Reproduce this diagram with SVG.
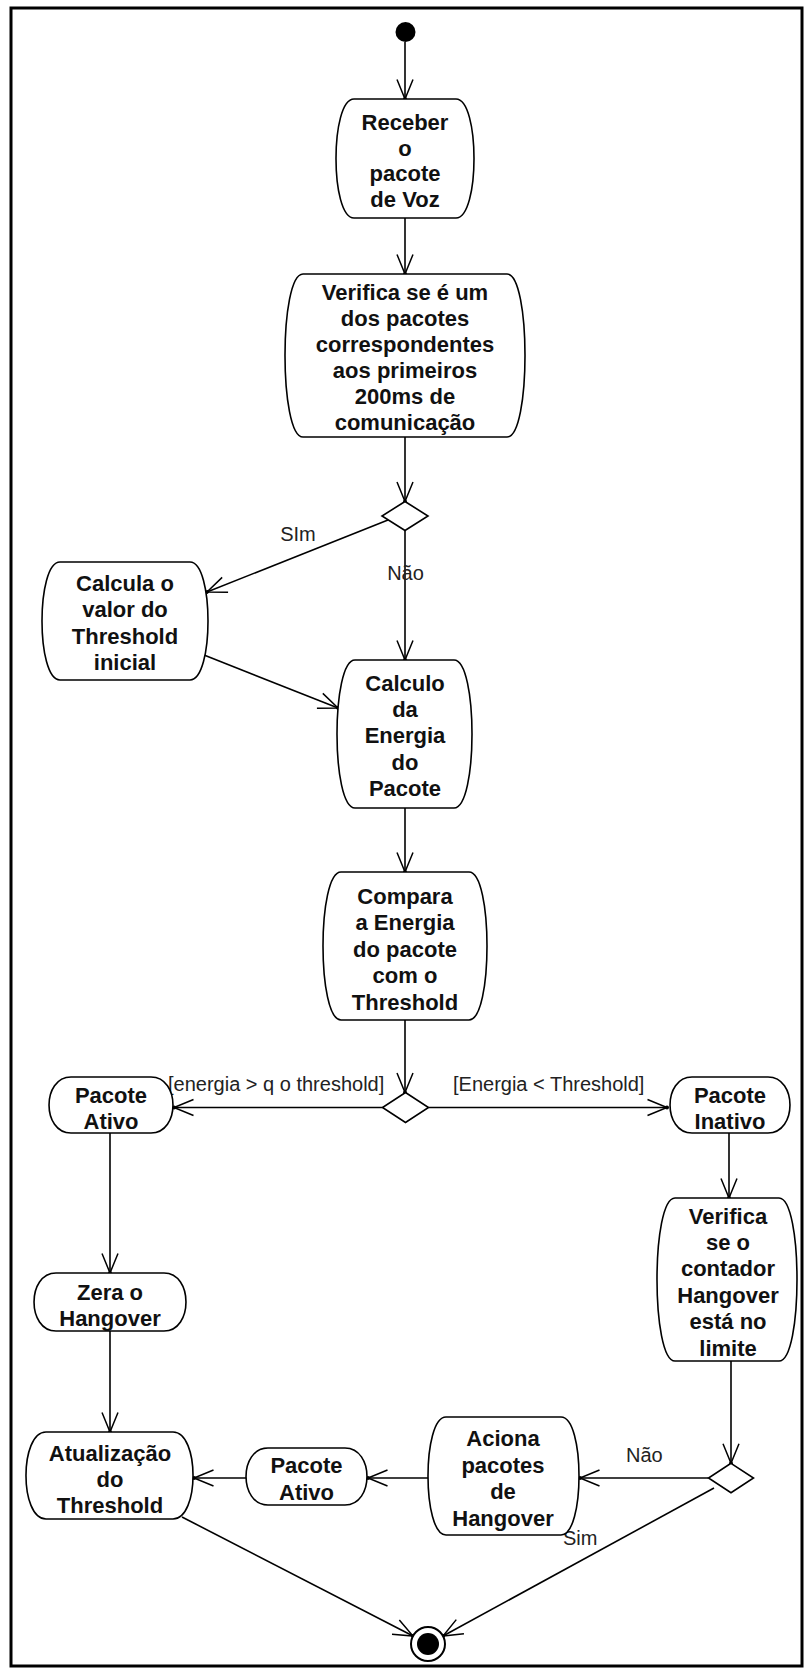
<svg xmlns="http://www.w3.org/2000/svg" width="811" height="1670" viewBox="0 0 811 1670">
<style>
.node{fill:#fff;stroke:#000;stroke-width:1.6}
.t{font-family:"Liberation Sans",Arial,sans-serif;font-weight:bold;font-size:22px;fill:#111;text-anchor:middle}
.lbl{font-family:"Liberation Sans",Arial,sans-serif;font-size:20px;fill:#222}
.c{fill:none;stroke:#000;stroke-width:1.6;marker-end:url(#arr)}
</style>
<defs>
<marker id="arr" markerUnits="userSpaceOnUse" markerWidth="30" markerHeight="30" viewBox="-25 -15 30 30" refX="0" refY="0" orient="auto" overflow="visible">
<path d="M-19.5,-8 L0,0 L-19.5,8" fill="none" stroke="#000" stroke-width="1.5"/>
<circle r="2" fill="#000"/>
</marker>
</defs>
<rect x="11" y="8" width="791" height="1658" fill="#fff" stroke="#000" stroke-width="3"/>

<g id="connectors">
<line class="c" x1="405" y1="42" x2="405" y2="99"/>
<line class="c" x1="405" y1="218" x2="405" y2="274"/>
<line class="c" x1="405" y1="437" x2="405" y2="501.5"/>
<line class="c" x1="388" y1="520" x2="207" y2="592"/>
<line class="c" x1="405" y1="530.5" x2="405" y2="660"/>
<line class="c" x1="204" y1="655" x2="338" y2="708"/>
<line class="c" x1="405" y1="808" x2="405" y2="872"/>
<line class="c" x1="405" y1="1020" x2="405" y2="1092.5"/>
<line class="c" x1="382.5" y1="1107.5" x2="174" y2="1107.5"/>
<line class="c" x1="428.5" y1="1107.5" x2="667" y2="1107.5"/>
<line class="c" x1="110" y1="1133" x2="110" y2="1273"/>
<line class="c" x1="729" y1="1133" x2="729" y2="1198"/>
<line class="c" x1="110" y1="1331" x2="110" y2="1432"/>
<line class="c" x1="731" y1="1361" x2="731" y2="1463.3"/>
<line class="c" x1="708.5" y1="1478" x2="580" y2="1478"/>
<line class="c" x1="428" y1="1478" x2="368" y2="1478"/>
<line class="c" x1="246" y1="1478" x2="194" y2="1478"/>
<line class="c" x1="182" y1="1517" x2="413" y2="1636"/>
<line class="c" x1="714" y1="1488" x2="443" y2="1636"/>
<text class="lbl" x="298" y="541" text-anchor="middle">SIm</text>
<text class="lbl" x="405.5" y="580" text-anchor="middle">Não</text>
<text class="lbl" x="168" y="1091">[energia &gt; q o threshold]</text>
<text class="lbl" x="453" y="1091">[Energia &lt; Threshold]</text>
<text class="lbl" x="626" y="1462">Não</text>
<text class="lbl" x="563" y="1545">Sim</text>
</g>

<g id="start"><circle cx="405.5" cy="32" r="10" fill="#000"/></g>

<g id="receber">
<path class="node" d="M354,99 H456 C480,99 480,218 456,218 H354 C330,218 330,99 354,99 Z"/>
<text class="t" x="405" y="130">Receber<tspan x="405" dy="25.7">o</tspan><tspan x="405" dy="25.7">pacote</tspan><tspan x="405" dy="25.7">de Voz</tspan></text>
</g>

<g id="verifica">
<path class="node" d="M303,274 H507 C531,274 531,437 507,437 H303 C279,437 279,274 303,274 Z"/>
<text class="t" x="405" y="299.5">Verifica se é um<tspan x="405" dy="26.1">dos pacotes</tspan><tspan x="405" dy="26.1">correspondentes</tspan><tspan x="405" dy="26.1">aos primeiros</tspan><tspan x="405" dy="26.1">200ms de</tspan><tspan x="405" dy="26.1">comunicação</tspan></text>
</g>

<g id="decisao1"><path class="node" d="M405,501.5 L428,516 L405,530.5 L382,516 Z"/></g>

<g id="calcula">
<path class="node" d="M60,562 H190 C214,562 214,680 190,680 H60 C36,680 36,562 60,562 Z"/>
<text class="t" x="125" y="591">Calcula o<tspan x="125" dy="26.3">valor do</tspan><tspan x="125" dy="26.3">Threshold</tspan><tspan x="125" dy="26.3">inicial</tspan></text>
</g>

<g id="calculo">
<path class="node" d="M355,660 H454 C478,660 478,808 454,808 H355 C331,808 331,660 355,660 Z"/>
<text class="t" x="405" y="691">Calculo<tspan x="405" dy="26.2">da</tspan><tspan x="405" dy="26.2">Energia</tspan><tspan x="405" dy="26.2">do</tspan><tspan x="405" dy="26.2">Pacote</tspan></text>
</g>

<g id="compara">
<path class="node" d="M341,872 H469 C493,872 493,1020 469,1020 H341 C317,1020 317,872 341,872 Z"/>
<text class="t" x="405" y="904">Compara<tspan x="405" dy="26.4">a Energia</tspan><tspan x="405" dy="26.4">do pacote</tspan><tspan x="405" dy="26.4">com o</tspan><tspan x="405" dy="26.4">Threshold</tspan></text>
</g>

<g id="decisao2"><path class="node" d="M405.5,1092.5 L428.5,1107.5 L405.5,1122.5 L382.5,1107.5 Z"/></g>

<g id="pacote-ativo-1">
<path class="node" d="M71,1077 H151 C180.3,1077 180.3,1133 151,1133 H71 C41.7,1133 41.7,1077 71,1077 Z"/>
<text class="t" x="111" y="1102.5">Pacote<tspan x="111" dy="26.6">Ativo</tspan></text>
</g>

<g id="pacote-inativo">
<path class="node" d="M692,1077 H768 C797.3,1077 797.3,1133 768,1133 H692 C662.7,1133 662.7,1077 692,1077 Z"/>
<text class="t" x="730" y="1102.5">Pacote<tspan x="730" dy="26.6">Inativo</tspan></text>
</g>

<g id="verifica-hangover">
<path class="node" d="M675,1198 H779 C803,1198 803,1361 779,1361 H675 C651,1361 651,1198 675,1198 Z"/>
<text class="t" x="728" y="1223.5">Verifica<tspan x="728" dy="26.4">se o</tspan><tspan x="728" dy="26.4">contador</tspan><tspan x="728" dy="26.4">Hangover</tspan><tspan x="728" dy="26.4">está no</tspan><tspan x="728" dy="26.4">limite</tspan></text>
</g>

<g id="zera">
<path class="node" d="M56,1273 H164 C193.3,1273 193.3,1331 164,1331 H56 C26.7,1331 26.7,1273 56,1273 Z"/>
<text class="t" x="110" y="1299.5">Zera o<tspan x="110" dy="26.2">Hangover</tspan></text>
</g>

<g id="atualizacao">
<path class="node" d="M46,1432 H173 C199.7,1432 199.7,1519 173,1519 H46 C19.3,1519 19.3,1432 46,1432 Z"/>
<text class="t" x="110" y="1461">Atualização<tspan x="110" dy="26">do</tspan><tspan x="110" dy="26">Threshold</tspan></text>
</g>

<g id="pacote-ativo-2">
<path class="node" d="M268,1448 H345 C374.3,1448 374.3,1505 345,1505 H268 C238.7,1505 238.7,1448 268,1448 Z"/>
<text class="t" x="306.5" y="1473">Pacote<tspan x="306.5" dy="26.6">Ativo</tspan></text>
</g>

<g id="aciona">
<path class="node" d="M446,1417 H561 C585,1417 585,1535 561,1535 H446 C422,1535 422,1417 446,1417 Z"/>
<text class="t" x="503" y="1446">Aciona<tspan x="503" dy="26.6">pacotes</tspan><tspan x="503" dy="26.6">de</tspan><tspan x="503" dy="26.6">Hangover</tspan></text>
</g>

<g id="decisao3"><path class="node" d="M731,1463.3 L753.5,1478 L731,1492.7 L708.5,1478 Z"/></g>

<g id="final">
<circle cx="428" cy="1644" r="17" fill="#fff" stroke="#000" stroke-width="2"/>
<circle cx="428" cy="1644" r="11" fill="#000"/>
</g>
</svg>
